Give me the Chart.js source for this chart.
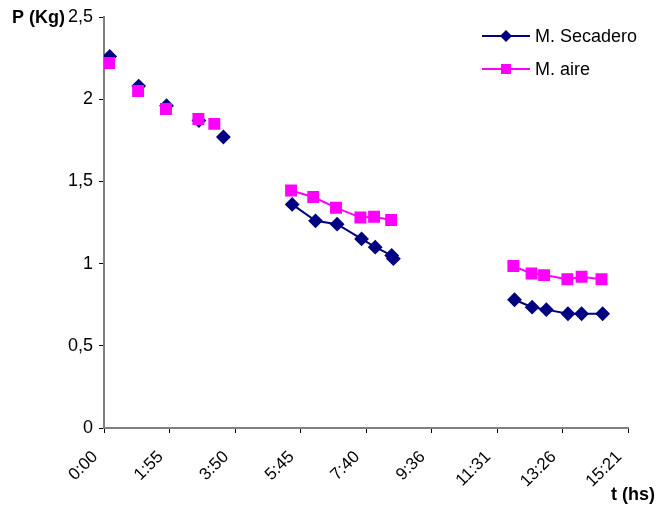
<!DOCTYPE html>
<html>
<head>
<meta charset="utf-8">
<script src="https://cdn.jsdelivr.net/npm/chart.js@4.4.0/dist/chart.umd.min.js"></script>
<style>
  html, body { margin: 0; padding: 0; background: #fff; }
  #wrap { width: 659px; height: 506px; position: relative; }
</style>
</head>
<body>
<div id="wrap"><canvas id="grafico"></canvas></div>
<script>
// tiempos en minutos, peso en kg
const secaderoT = [10, 61, 110, 167, 210, 331, 372, 410, 453, 477, 506, 509, 722, 753, 778, 816, 840, 877];
const secaderoP = [2.26, 2.08, 1.96, 1.87, 1.77, 1.36, 1.26, 1.24, 1.15, 1.10, 1.05, 1.03, 0.78, 0.735, 0.72, 0.695, 0.695, 0.695];
const aireT = [9, 60, 109, 166, 194, 329, 368, 408, 451, 475, 505, 720, 752, 774, 815, 840, 875];
const aireP = [2.22, 2.05, 1.94, 1.88, 1.85, 1.445, 1.405, 1.34, 1.28, 1.285, 1.265, 0.985, 0.94, 0.93, 0.905, 0.92, 0.905];
const ticksX = [0, 115.2, 230.4, 345.6, 460.8, 576, 691.2, 806.4, 921.6];
const ticksY = [0, 0.5, 1, 1.5, 2, 2.5];
const series = ["M. Secadero", "M. aire"];

const FONT = "'Liberation Sans', Arial, sans-serif";

function armarPuntos(t, p) {
    return t.map((x, i) => ({ x: x, y: p[i] }));
}

// Excel corta los minutos, no redondea
function formatoHora(min) {
    const m = Math.floor(min + 1e-6);
    const h = Math.floor(m / 60);
    const mm = m % 60;
    return h + ":" + (mm < 10 ? "0" : "") + mm;
}

// los primeros puntos van sueltos, sin linea; tampoco entre tandas
function colorTramo(color) {
    return ctx => {
        const x0 = ctx.p0.parsed.x, x1 = ctx.p1.parsed.x;
        if (x0 < 300 || x1 - x0 > 100) return "rgba(0,0,0,0)";
        return color;
    };
}

const leyendaYTitulos = {
    id: "leyendaYTitulos",
    afterDraw(chart) {
        const c = chart.ctx;
        c.save();
        const items = [
            { label: series[0], color: "#000080", y: 36, forma: "diamante" },
            { label: series[1], color: "#FF00FF", y: 69, forma: "cuadrado" }
        ];
        items.forEach(it => {
            c.strokeStyle = it.color;
            c.lineWidth = 2;
            c.beginPath();
            c.moveTo(482, it.y);
            c.lineTo(530, it.y);
            c.stroke();
            c.fillStyle = it.color;
            c.beginPath();
            if (it.forma === "diamante") {
                c.moveTo(506, it.y - 6);
                c.lineTo(512, it.y);
                c.lineTo(506, it.y + 6);
                c.lineTo(500, it.y);
                c.closePath();
            } else {
                c.rect(501, it.y - 5, 10, 10);
            }
            c.fill();
            c.fillStyle = "#000";
            c.font = "18px " + FONT;
            c.textBaseline = "middle";
            c.textAlign = "left";
            c.fillText(it.label, 535, it.y + 1);
        });
        c.font = "bold 18px " + FONT;
        c.textBaseline = "middle";
        c.fillText("P (Kg)", 12, 18);
        c.fillText("t (hs)", 611, 495);
        c.restore();
    }
};

new Chart(document.getElementById("grafico"), {
    type: "scatter",
    data: {
        datasets: [{
            label: series[0],
            data: armarPuntos(secaderoT, secaderoP),
            order: 1,
            showLine: true,
            borderColor: "#000080",
            backgroundColor: "#000080",
            borderWidth: 2,
            pointStyle: "rectRot",
            pointRadius: 6,
            pointHoverRadius: 6,
            segment: { borderColor: colorTramo("#000080") }
        }, {
            label: series[1],
            data: armarPuntos(aireT, aireP),
            order: 0,
            showLine: true,
            borderColor: "#FF00FF",
            backgroundColor: "#FF00FF",
            borderWidth: 2,
            pointStyle: "rect",
            pointRadius: 7,
            pointHoverRadius: 7,
            segment: { borderColor: colorTramo("#FF00FF") }
        }]
    },
    options: {
        responsive: true,
        maintainAspectRatio: false,
        animation: false,
        layout: { padding: { left: 0, right: 31, top: 17, bottom: 0 } },
        plugins: {
            legend: { display: false },
            tooltip: { enabled: false }
        },
        scales: {
            x: {
                type: "linear",
                min: 0,
                max: 921.6,
                afterFit: s => { s.height = 78; },
                afterBuildTicks: s => { s.ticks = ticksX.map(v => ({ value: v })); },
                grid: { display: true, drawOnChartArea: false, drawTicks: true, tickLength: 5, color: "#000" },
                border: { color: "#808080", width: 2 },
                ticks: {
                    minRotation: 45,
                    maxRotation: 45,
                    padding: 14,
                    labelOffset: -9,
                    color: "#000",
                    font: { family: FONT, size: 17 },
                    callback: v => formatoHora(v)
                }
            },
            y: {
                min: 0,
                max: 2.5,
                afterFit: s => { s.width = 104; },
                afterBuildTicks: s => { s.ticks = ticksY.map(v => ({ value: v })); },
                grid: { display: true, drawOnChartArea: false, drawTicks: true, tickLength: 5, color: "#000" },
                border: { color: "#808080", width: 2 },
                ticks: {
                    color: "#000",
                    padding: 6,
                    font: { family: FONT, size: 18 },
                    callback: v => String(v).replace(".", ",")
                }
            }
        }
    },
    plugins: [leyendaYTitulos]
});
</script>
</body>
</html>
